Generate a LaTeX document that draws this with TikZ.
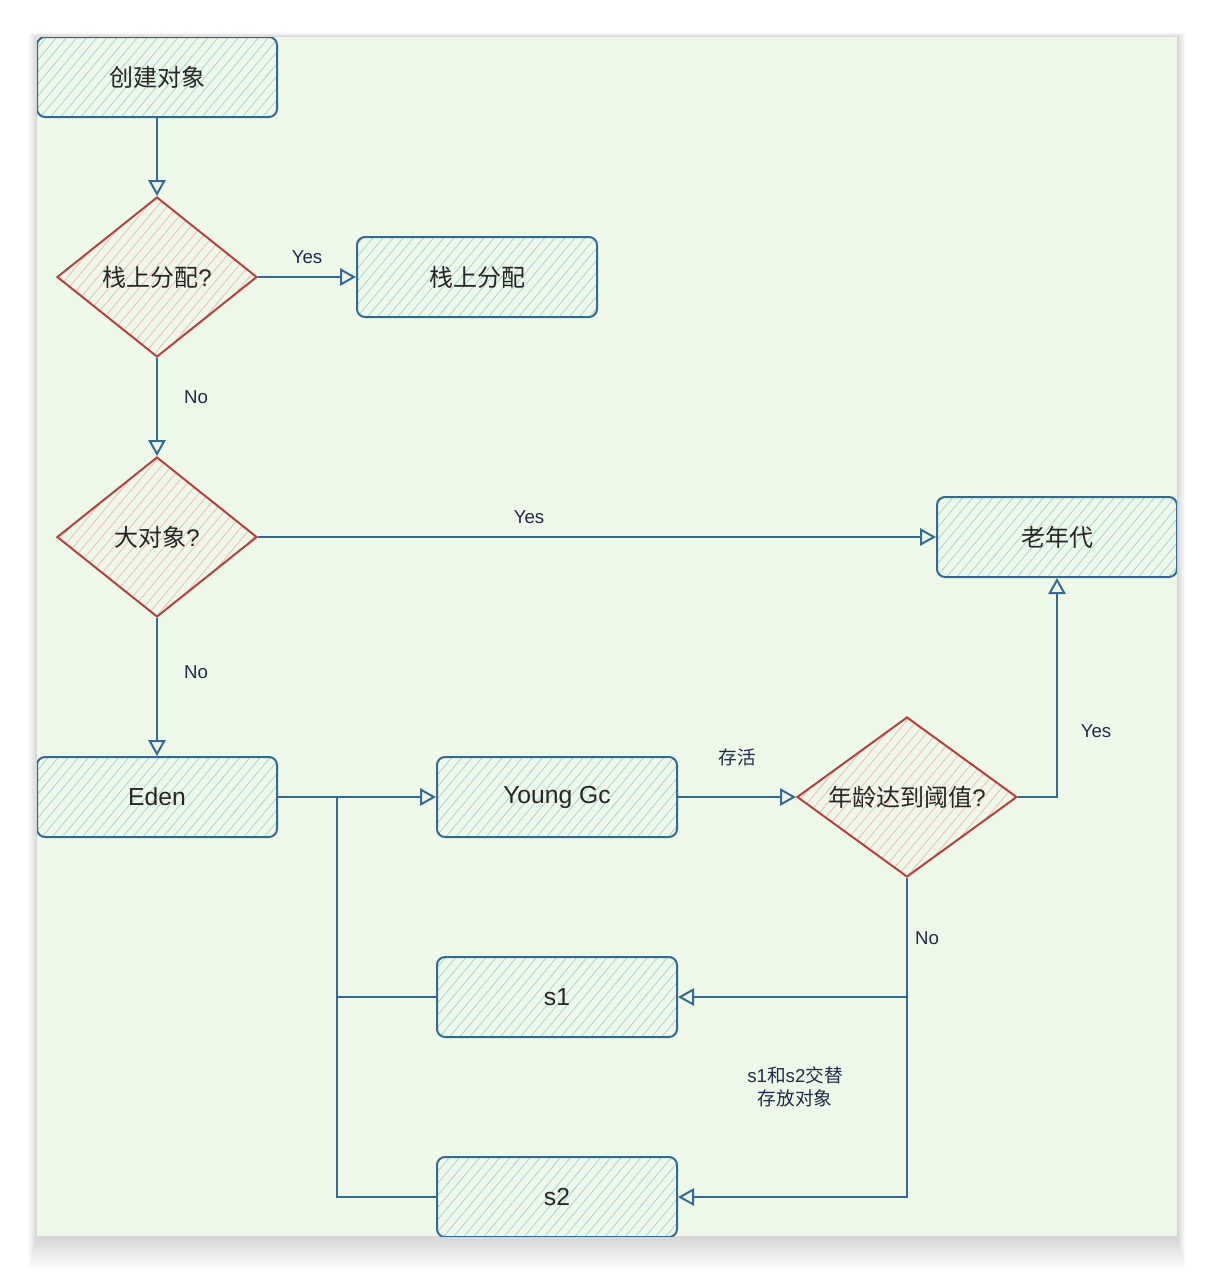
\documentclass[tikz,border=0pt]{standalone}
\usepackage{fontspec}
\setmainfont{Liberation Sans}
\newfontfamily\cjk{Noto Sans CJK SC}
\newfontfamily\lat{Liberation Sans}
\usetikzlibrary{shapes.geometric,arrows.meta,patterns.meta}
\definecolor{bggreen}{HTML}{EEF8E8}
\definecolor{edge}{HTML}{336B95}
\definecolor{hatchteal}{HTML}{A0D4DC}
\definecolor{dred}{HTML}{B5403E}
\definecolor{hatchpink}{HTML}{F3B9B6}
\definecolor{txt}{HTML}{262626}
\definecolor{lbl}{HTML}{1E2C4A}
\begin{document}
\begin{tikzpicture}[x=0.75pt,y=-0.75pt,
  box/.style={rectangle, rounded corners=6pt, draw=edge, line width=1.5pt,
    minimum width=180pt, minimum height=60pt, inner sep=0pt,
    pattern={Lines[angle=50,distance=5.8pt,line width=0.6pt]}, pattern color=hatchteal,
    text=txt, font=\cjk\fontsize{18}{22}\selectfont},
  latbox/.style={box, font=\lat\fontsize{18.5}{22}\selectfont},
  dec/.style={diamond, draw=dred, line width=1.5pt, inner sep=0pt,
    minimum width=150pt, minimum height=120pt, shape aspect=1.25,
    pattern={Lines[angle=50,distance=5.8pt,line width=0.6pt]}, pattern color=hatchpink,
    text=txt, font=\cjk\fontsize{18}{22}\selectfont},
  line/.style={draw=edge, line width=1.5pt},
  conn/.style={line, -{Triangle[open,length=12pt,width=13pt,line width=1.5pt]}},
  lab/.style={text=lbl, font=\lat\fontsize{14}{17}\selectfont},
  cjklab/.style={text=lbl, font=\cjk\fontsize{14}{17}\selectfont, align=center}]
\useasboundingbox (0,0) rectangle (1214,1272);
\fill[white] (0,0) rectangle (1214,1272);
% shadow
\foreach \i in {1,...,14}
  \fill[black, opacity=0.010] (37-\i*0.6,37-\i*0.3) rectangle (1177+\i*0.6,1236+\i*2.4);
\fill[bggreen] (37,37) rectangle (1177,1236);
\begin{scope}
\clip (37,37) rectangle (1177,1236);
\node[box] (create) at (157,77) {创建对象};
\node[dec] (d1) at (157,277) {栈上分配{\lat ?}};
\node[box] (stack) at (477,277) {栈上分配};
\node[dec] (d2) at (157,537) {大对象{\lat ?}};
\node[box] (old) at (1057,537) {老年代};
\node[latbox] (eden) at (157,797) {Eden};
\node[latbox] (young) at (557,797) {Young Gc};
\node[dec, minimum width=165pt, shape aspect=1.375] (d3) at (907,797) {年龄达到阈值{\lat ?}};
\node[latbox] (s1) at (557,997) {s1};
\node[latbox] (s2) at (557,1197) {s2};
\coordinate (j) at (337,797);

\draw[conn] (create) -- (d1);
\draw[conn] (d1) -- (stack);
\draw[conn] (d1) -- (d2);
\draw[conn] (d2) -- (old);
\draw[conn] (d2) -- (eden);
\draw[conn] (eden) -- (young);
\draw[conn] (young) -- (d3);
\draw[conn] (d3.east) -| (old.south);
\draw[conn] (d3.south) |- (s1.east);
\draw[conn] (d3.south) |- (s2.east);
\draw[line] (s1.west) -| (j);
\draw[line] (s2.west) -| (j);

\node[lab] (yes1) at (307,257) {Yes};
\node[lab] (no1) at (196,397) {No};
\node[lab] (yes2) at (529,517) {Yes};
\node[lab] (no2) at (196,672) {No};
\node[lab] (yes3) at (1096,731) {Yes};
\node[cjklab] (alive) at (737,757) {存活};
\node[lab] (no3) at (927,938) {No};
\node[cjklab] (note) at (795,1087) {{\lat s1}和{\lat s2}交替\\存放对象};
\end{scope}
\end{tikzpicture}
\end{document}
